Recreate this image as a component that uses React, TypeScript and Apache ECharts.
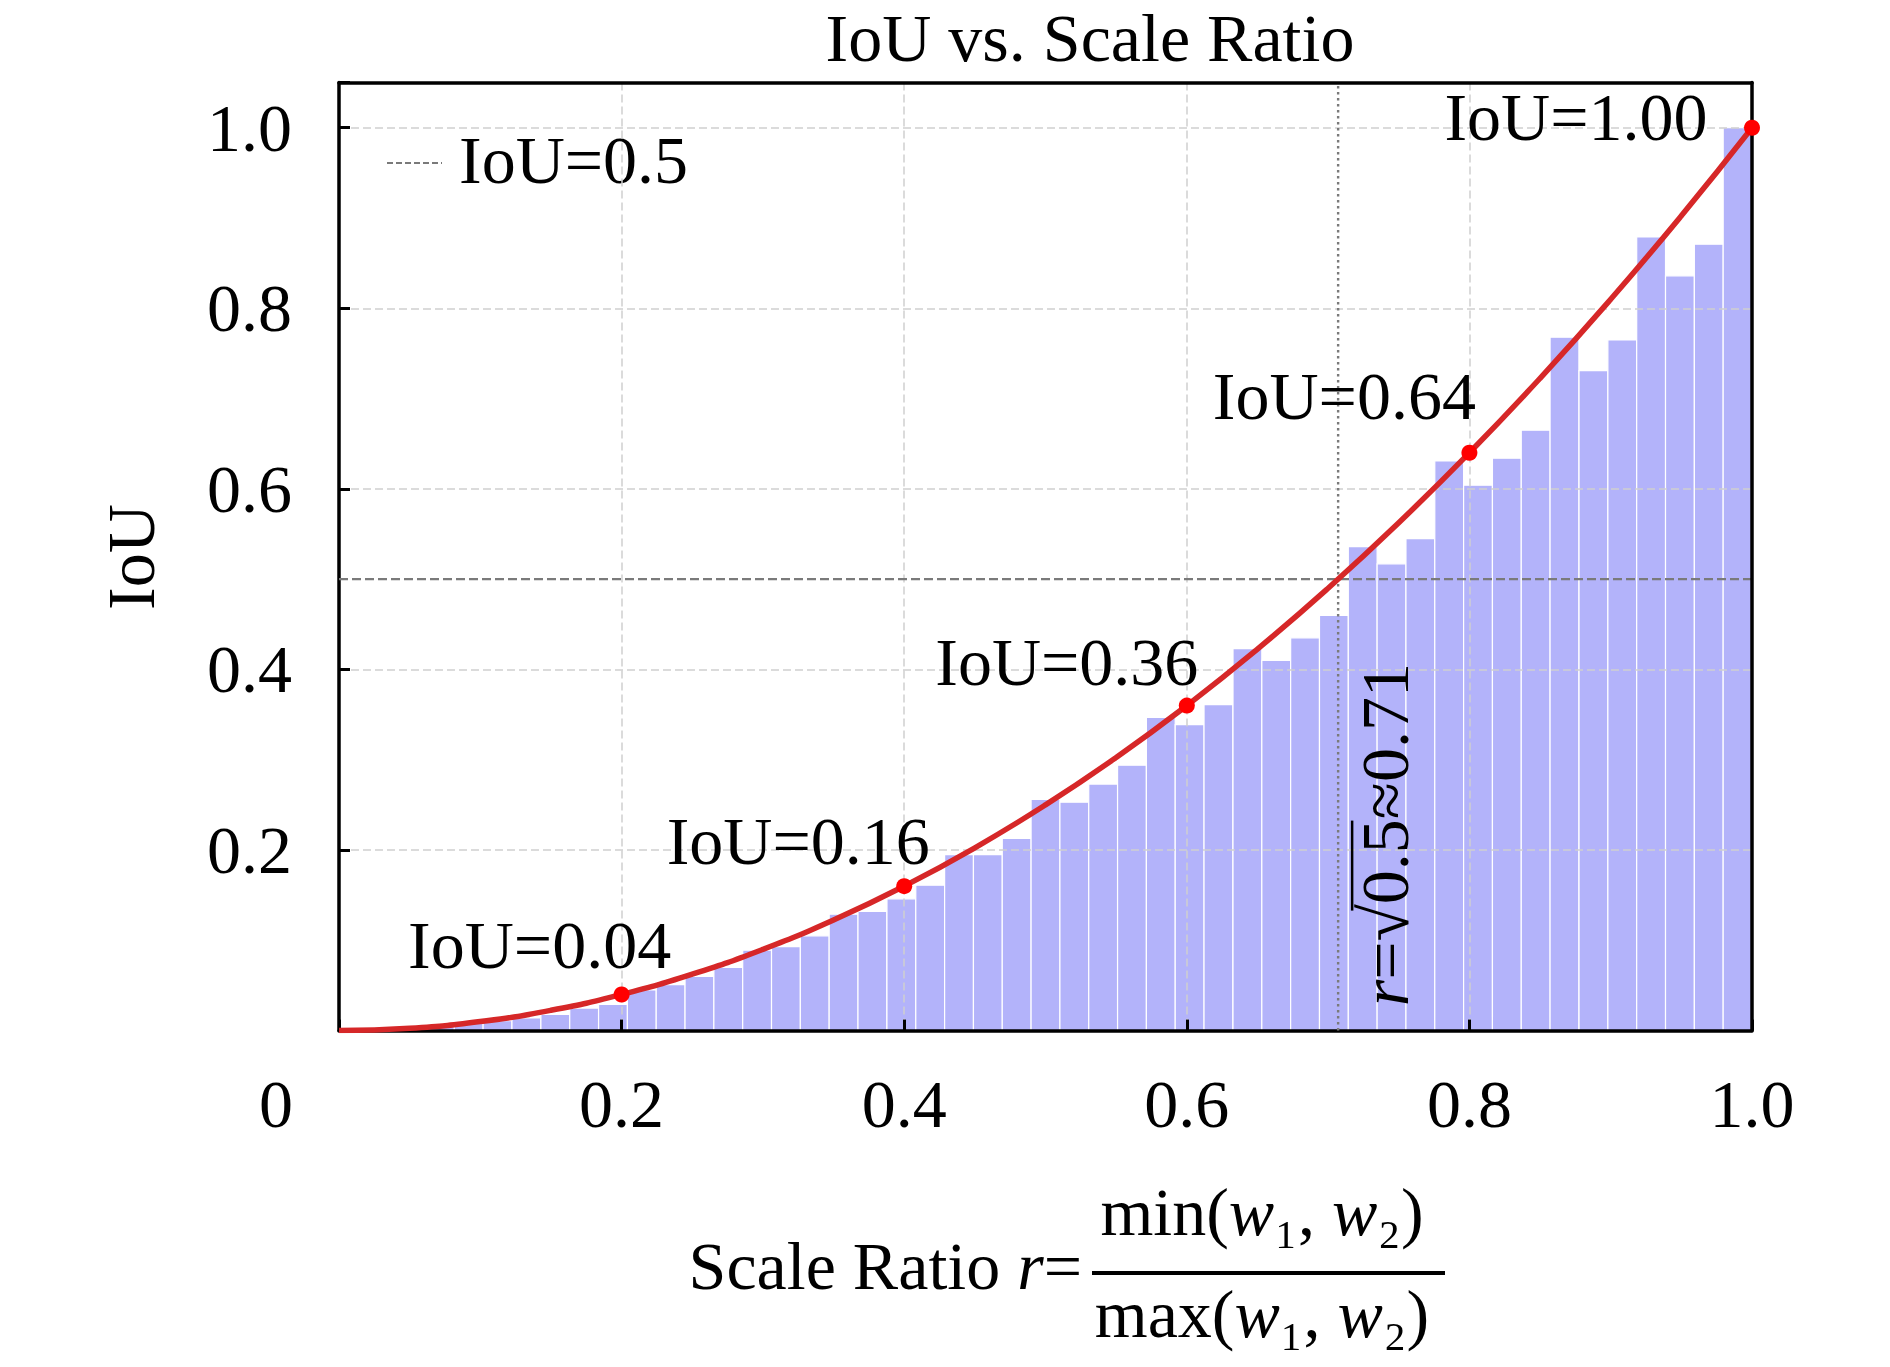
import React, { useEffect, useRef } from "react";
import * as echarts from "echarts";

// ---------- data ----------
const BIN_WIDTH = 0.0204;
const BIN_LEFT = [
  0, 0.0204, 0.0408, 0.0612, 0.0816, 0.102, 0.1224, 0.1429, 0.1633, 0.1837,
  0.2041, 0.2245, 0.2449, 0.2653, 0.2857, 0.3061, 0.3265, 0.3469, 0.3673, 0.3878,
  0.4082, 0.4286, 0.449, 0.4694, 0.4898, 0.5102, 0.5306, 0.551, 0.5714, 0.5918,
  0.6122, 0.6327, 0.6531, 0.6735, 0.6939, 0.7143, 0.7347, 0.7551, 0.7755, 0.7959,
  0.8163, 0.8367, 0.8571, 0.8776, 0.898, 0.9184, 0.9388, 0.9592, 0.9796,
];
const BIN_IOU = [
  0.0003, 0.001, 0.003, 0.006, 0.009, 0.011, 0.014, 0.018, 0.025, 0.029,
  0.045, 0.051, 0.06, 0.07, 0.089, 0.093, 0.105, 0.129, 0.132, 0.146,
  0.161, 0.195, 0.195, 0.213, 0.256, 0.253, 0.273, 0.294, 0.347, 0.339,
  0.361, 0.423, 0.41, 0.435, 0.46, 0.536, 0.517, 0.545, 0.631, 0.604,
  0.634, 0.665, 0.768, 0.731, 0.765, 0.879, 0.836, 0.871, 1.0,
];
const CURVE_R = [
  0, 0.05, 0.1, 0.15, 0.2, 0.25, 0.3, 0.35, 0.4, 0.45, 0.5,
  0.55, 0.6, 0.65, 0.7, 0.75, 0.8, 0.85, 0.9, 0.95, 1.0,
];
const CURVE_IOU = [
  0, 0.0025, 0.01, 0.0225, 0.04, 0.0625, 0.09, 0.1225, 0.16, 0.2025, 0.25,
  0.3025, 0.36, 0.4225, 0.49, 0.5625, 0.64, 0.7225, 0.81, 0.9025, 1.0,
];
const MARK_R = [0.2, 0.4, 0.6, 0.8, 1.0];
const MARK_IOU = [0.04, 0.16, 0.36, 0.64, 1.0];
const MARK_LABELS = ["IoU=0.04", "IoU=0.16", "IoU=0.36", "IoU=0.64", "IoU=1.00"];
const THRESHOLD_IOU = 0.5;
const THRESHOLD_R = 0.7071;
const THRESHOLD_LEGEND = "IoU=0.5";
const THRESHOLD_TEXT = "=√0.5≈0.71";
const TITLE = "IoU vs. Scale Ratio";
const Y_NAME = "IoU";

// ---------- styles ----------
const FONT = "'Liberation Serif', 'DejaVu Serif', serif";
const FS = 68;
const LABEL_OFFSETS = [
  [-82, -49],
  [-106, -45],
  [-120, -44],
  [-125, -57],
  [-176, -11],
];

const GRID = { left: 339, top: 82.6, width: 1413, height: 948 };

export default function App() {
  const ref = useRef<HTMLDivElement>(null);

  useEffect(() => {
    document.body.style.margin = "0";
    if (!ref.current) return;
    const chart = echarts.init(ref.current, undefined, { renderer: "svg" });

    const txt = (extra: any) => ({
      fill: "#000",
      fontFamily: FONT,
      fontSize: FS,
      ...extra,
    });
    const rich = {
      n: { fontFamily: FONT, fontSize: FS, fill: "#000", color: "#000" },
      i: { fontFamily: FONT, fontSize: FS, fontStyle: "italic", fill: "#000", color: "#000" },
    };

    const option: any = {
      animation: false,
      backgroundColor: "#ffffff",
      grid: { ...GRID, containLabel: false },
      xAxis: [
        {
          type: "value",
          min: 0,
          max: 1,
          interval: 0.2,
          position: "bottom",
          z: 3,
          axisLine: { show: true, onZero: false, lineStyle: { color: "#000", width: 3.5 } },
          axisTick: { show: true, inside: true, length: 11, lineStyle: { color: "#000", width: 3 } },
          axisLabel: {
            show: true,
            margin: 39,
            showMaxLabel: true,
            showMinLabel: true,
            color: "#000",
            fontFamily: FONT,
            fontSize: FS,
            formatter: (v: number) => (v < 0.001 ? "" : v.toFixed(1)),
          },
          splitLine: { show: true, lineStyle: { color: "#cfcfcf", type: [8, 4], width: 1.5 } },
        },
        {
          type: "value",
          min: 0,
          max: 1,
          position: "top",
          z: 5,
          axisLine: { show: true, onZero: false, lineStyle: { color: "#000", width: 3.5 } },
          axisTick: { show: false },
          axisLabel: { show: false },
          splitLine: { show: false },
        },
      ],
      yAxis: [
        {
          type: "value",
          min: 0,
          max: 1.05,
          interval: 0.2,
          position: "left",
          z: 3,
          axisLine: { show: true, onZero: false, lineStyle: { color: "#000", width: 3.5 } },
          axisTick: { show: true, inside: true, length: 11, lineStyle: { color: "#000", width: 3 } },
          axisLabel: {
            show: true,
            margin: 47,
            color: "#000",
            fontFamily: FONT,
            fontSize: FS,
            formatter: (v: number) => (v > 0.001 && v < 1.01 ? v.toFixed(1) : ""),
          },
          splitLine: { show: true, lineStyle: { color: "#cfcfcf", type: [8, 4], width: 1.5 } },
        },
        {
          type: "value",
          min: 0,
          max: 1.05,
          position: "right",
          z: 5,
          axisLine: { show: true, onZero: false, lineStyle: { color: "#000", width: 3.5 } },
          axisTick: { show: false },
          axisLabel: { show: false },
          splitLine: { show: false },
        },
      ],
      series: [
        {
          type: "custom",
          name: "hist",
          z: 1,
          xAxisIndex: 0,
          yAxisIndex: 0,
          clip: true,
          encode: { x: [0, 1], y: 2 },
          data: BIN_LEFT.map((l, i) => [l, l + BIN_WIDTH, BIN_IOU[i]]),
          renderItem: (params: any, api: any) => {
            const p0 = api.coord([api.value(0), api.value(2)]);
            const p1 = api.coord([api.value(1), 0]);
            return {
              type: "rect",
              shape: { x: p0[0], y: p0[1], width: p1[0] - p0[0], height: p1[1] - p0[1] },
              style: { fill: "#b3b3fa", stroke: "#ffffff", lineWidth: 1.2 },
            };
          },
        },
        {
          type: "line",
          name: THRESHOLD_LEGEND,
          z: 4,
          symbol: "none",
          silent: true,
          data: [
            [0, THRESHOLD_IOU],
            [1, THRESHOLD_IOU],
          ],
          lineStyle: { color: "#7a7a7a", width: 2.2, type: [9, 4] },
        },
        {
          type: "line",
          name: "r-threshold",
          z: 4,
          symbol: "none",
          silent: true,
          data: [
            [THRESHOLD_R, 0],
            [THRESHOLD_R, 1.05],
          ],
          lineStyle: { color: "#7a7a7a", width: 2.4, type: [2.5, 3.5] },
        },
        {
          type: "line",
          name: "IoU curve",
          z: 6,
          smooth: true,
          symbol: "none",
          data: CURVE_R.map((r, i) => [r, CURVE_IOU[i]]),
          lineStyle: { color: "#d62728", width: 5.5 },
        },
        {
          type: "scatter",
          name: "marks",
          z: 7,
          symbolSize: 16,
          clip: false,
          itemStyle: { color: "#ff0000", opacity: 1 },
          data: MARK_R.map((r, i) => ({
            value: [r, MARK_IOU[i]],
            label: {
              show: true,
              position: "inside",
              offset: LABEL_OFFSETS[i],
              formatter: MARK_LABELS[i],
              color: "#000000",
              opacity: 1,
              textBorderWidth: 0,
              textBorderColor: "transparent",
              textShadowBlur: 0,
              fontFamily: FONT,
              fontSize: FS,
            },
          })),
        },
      ],
    };

    chart.setOption(option);

    const vBase = chart.convertToPixel({ gridIndex: 0 }, [THRESHOLD_R, 0]) as number[];
    const cx = vBase[0] + 47;
    const cy = vBase[1] - 196;

    const center = { align: "center", verticalAlign: "middle", textAlign: "center", textVerticalAlign: "middle" };

    chart.setOption({
      graphic: [
        { type: "text", x: 1090, y: 38, style: txt({ text: TITLE, ...center }) },
        { type: "text", x: 276, y: 1104, style: txt({ text: "0", ...center }) },
        { type: "text", x: 131, y: 557, rotation: Math.PI / 2, style: txt({ text: Y_NAME, ...center }) },
        {
          type: "line",
          shape: { x1: 387, y1: 163, x2: 442, y2: 163 },
          style: { stroke: "#7a7a7a", lineWidth: 2.2, lineDash: [6, 3] },
        },
        {
          type: "text",
          x: 459,
          y: 160,
          style: txt({ text: THRESHOLD_LEGEND, align: "left", verticalAlign: "middle", textAlign: "left", textVerticalAlign: "middle" }),
        },
        {
          type: "text",
          x: 1082,
          y: 1266,
          style: txt({
            text: "{n|Scale Ratio }{i|r}{n|=}",
            align: "right",
            verticalAlign: "middle",
            textAlign: "right",
            textVerticalAlign: "middle",
            rich,
          }),
        },
        {
          type: "text",
          x: 1262,
          y: 1212,
          style: txt({ text: "{n|min(}{i|w}{n|₁, }{i|w}{n|₂)}", ...center, rich }),
        },
        {
          type: "line",
          shape: { x1: 1092, y1: 1273, x2: 1445, y2: 1273 },
          style: { stroke: "#000", lineWidth: 4 },
        },
        {
          type: "text",
          x: 1262,
          y: 1314,
          style: txt({ text: "{n|max(}{i|w}{n|₁, }{i|w}{n|₂)}", ...center, rich }),
        },
        {
          type: "text",
          x: cx,
          y: cy,
          rotation: Math.PI / 2,
          z: 20,
          style: txt({ text: "{i|r}{n|" + THRESHOLD_TEXT + "}", ...center, rich }),
        },
        {
          type: "line",
          z: 20,
          shape: { x1: cx - 33, y1: cy + 76, x2: cx - 33, y2: cy - 14 },
          style: { stroke: "#000", lineWidth: 2.5 },
        },
      ],
    });

    return () => chart.dispose();
  }, []);

  return <div ref={ref} style={{ width: 1890, height: 1367 }} />;
}
